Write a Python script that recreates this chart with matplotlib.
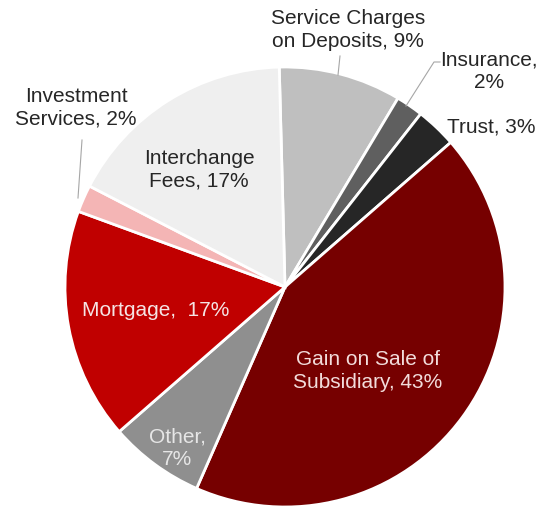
import matplotlib.pyplot as plt
import numpy as np

plt.rcParams['font.family'] = ['Liberation Sans', 'DejaVu Sans']

# ---------------- Data ---------------- #
labels = ["Service Charges\non Deposits, 9%", "Insurance,\n2%", "Trust, 3%",
          "Gain on Sale of\nSubsidiary, 43%", "Other,\n7%", "Mortgage,  17%",
          "Investment\nServices, 2%", "Interchange\nFees, 17%"]
shares = [9, 2, 3, 43, 7, 17, 2, 17]
colors = ["#bfbfbf", "#5f5f5f", "#262626", "#760000", "#8f8f8f", "#c00000",
          "#f4b5b5", "#efefef"]
text_colors = ["#262626", "#262626", "#262626", "#f2dcdb", "#e6e6e6", "#f5e4e4",
               "#262626", "#262626"]

# label anchors (pixel space of the 556x509 picture)
label_px = [(348, 30), (489, 71), (491, 127), (368, 371), (177, 448),
            (156, 310), (76, 108), (199, 170)]

# ---------------- Figure ---------------- #
W, H = 556, 509
cx, cy, R = 285, 287, 220

fig = plt.figure(figsize=(W / 100, H / 100), dpi=100)
ax = fig.add_axes([0, 0, 1, 1])

wedges, _ = ax.pie(shares, colors=colors, startangle=91.5, counterclock=False,
                   radius=1, wedgeprops=dict(edgecolor="white", linewidth=2))

ax.set_xlim(-cx / R, (W - cx) / R)
ax.set_ylim(-(H - cy) / R, cy / R)
ax.set_aspect('equal')
ax.axis('off')


def to_data(px, py):
    return (px - cx) / R, (cy - py) / R


for lab, (px, py), tc in zip(labels, label_px, text_colors):
    x, y = to_data(px, py)
    ax.text(x, y, lab, ha="center", va="center", fontsize=15, color=tc,
            linespacing=1.25)

# leader lines
leaders = [
    [(340, 56), (338, 75)],
    [(440, 62), (434, 62), (406, 106)],
    [(82, 140), (78, 198)],
]
for pts in leaders:
    xs, ys = zip(*[to_data(*p) for p in pts])
    ax.plot(xs, ys, color="#a6a6a6", linewidth=0.8)

fig.savefig("out.png", dpi=100, facecolor="white")
